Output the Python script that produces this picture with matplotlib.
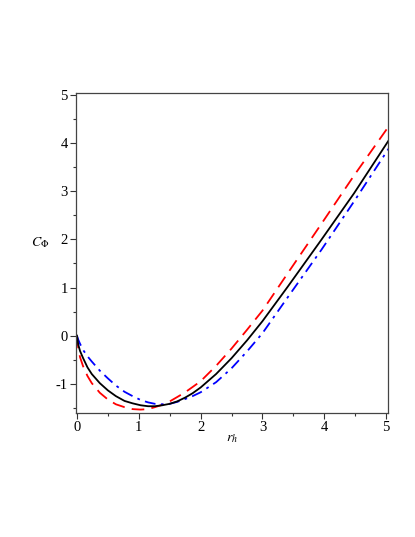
import matplotlib
matplotlib.use("Agg")
import matplotlib.pyplot as plt
from matplotlib.ticker import MultipleLocator

plt.rcParams['font.family'] = ['Liberation Serif', 'DejaVu Serif']
plt.rcParams['mathtext.fontset'] = 'stix'
plt.rcParams['axes.unicode_minus'] = False

# Data
r_h = [0.0, 0.02, 0.05, 0.1, 0.17, 0.24, 0.37, 0.5, 0.63, 0.77, 0.9, 1.03,
       1.15, 1.26, 1.38, 1.5, 1.62, 1.75, 1.87, 2.0, 2.25, 2.5, 2.75, 3.0,
       3.41, 3.95, 4.48, 5.05]
c_black = [0.0, -0.18, -0.32, -0.47, -0.66, -0.80, -0.99, -1.14, -1.26, -1.36,
           -1.41, -1.45, -1.47, -1.47, -1.45, -1.42, -1.37, -1.29, -1.2, -1.08,
           -0.8, -0.47, -0.1, 0.3, 1.02, 1.99, 2.96, 4.08]
c_red = [0.0, -0.25, -0.45, -0.64, -0.84, -0.99, -1.19, -1.33, -1.43, -1.49,
         -1.53, -1.54, -1.53, -1.49, -1.44, -1.37, -1.28, -1.18, -1.07, -0.95,
         -0.63, -0.27, 0.12, 0.52, 1.3, 2.32, 3.33, 4.37]
c_blue = [0.0, -0.08, -0.17, -0.30, -0.43, -0.54, -0.73, -0.89, -1.04, -1.17,
          -1.26, -1.34, -1.39, -1.42, -1.43, -1.42, -1.38, -1.32, -1.26, -1.18,
          -0.97, -0.68, -0.33, 0.05, 0.8, 1.78, 2.79, 3.91]

x_ticks = [0, 1, 2, 3, 4, 5]
y_ticks = [-1, 0, 1, 2, 3, 4, 5]

fig = plt.figure(figsize=(4.15, 5.37), dpi=100)
ax = fig.add_axes([0.183, 0.231, 0.752, 0.596])

ax.plot(r_h, c_red, color='#ff0000', lw=1.3, dashes=(7, 4))
ax.plot(r_h, c_blue, color='#0000ff', lw=1.3, dashes=(6, 3, 1.5, 3))
ax.plot(r_h, c_black, color='black', lw=1.3)

ax.set_xlim(-0.016, 5.03)
ax.set_ylim(-1.61, 5.05)
ax.set_xticks(x_ticks)
ax.set_yticks(y_ticks)
ax.xaxis.set_minor_locator(MultipleLocator(0.5))
ax.yaxis.set_minor_locator(MultipleLocator(0.5))
ax.tick_params(which='major', direction='out', length=4, width=0.8,
               labelsize=10.5, pad=2, colors='#333333', labelcolor='black')
ax.tick_params(which='minor', direction='out', length=2.5, width=0.8,
               colors='#333333')
for s in ax.spines.values():
    s.set_color('#444444')
    s.set_linewidth(0.9)

fig.text(40 / 415, 1 - 243 / 537, r'$C_{\Phi}$', fontsize=10,
         ha='center', va='center')
fig.text(232 / 415, 1 - 440 / 537, r'$r_h$', fontsize=10,
         ha='center', va='center')

fig.savefig('out.png', dpi=100)
